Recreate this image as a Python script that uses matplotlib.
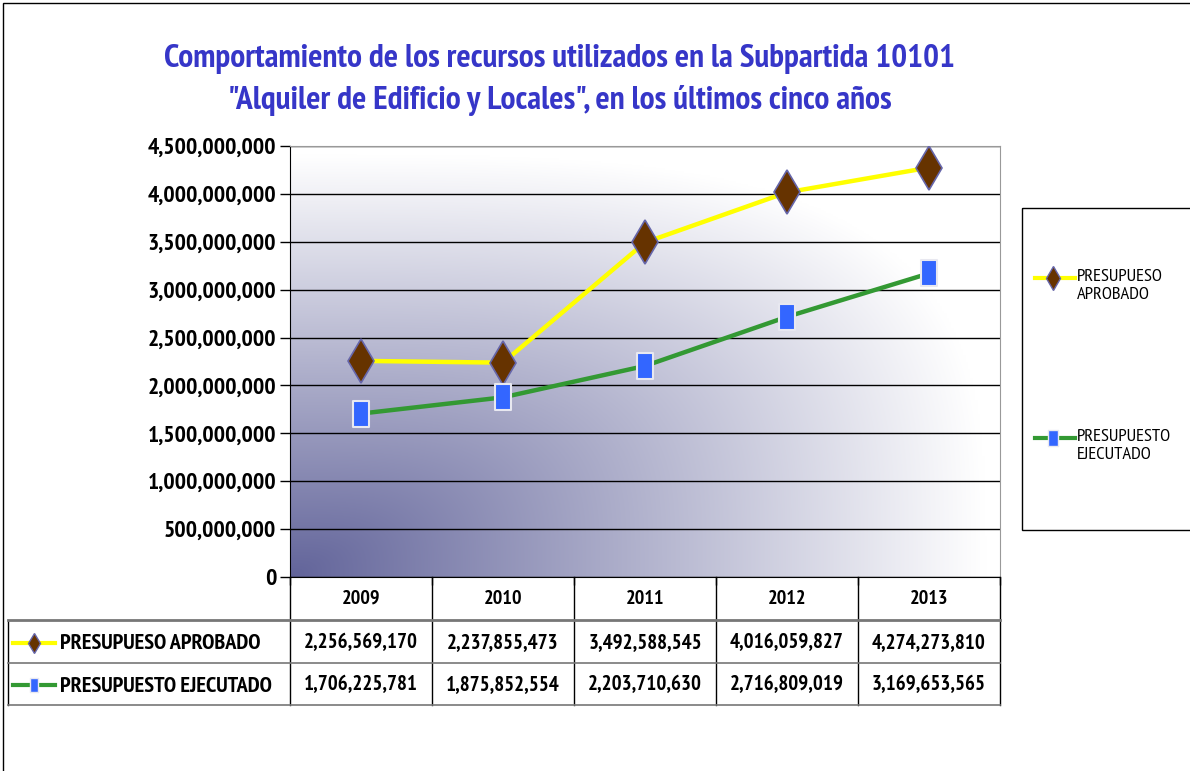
import numpy as np
import matplotlib
matplotlib.use("Agg")
import matplotlib.pyplot as plt
from matplotlib import font_manager as fm
from matplotlib.path import Path
from matplotlib.patches import Rectangle
from matplotlib.ticker import FuncFormatter

years = ["2009", "2010", "2011", "2012", "2013"]
aprobado = [2256569170, 2237855473, 3492588545, 4016059827, 4274273810]
ejecutado = [1706225781, 1875852554, 2203710630, 2716809019, 3169653565]
series_names = ["PRESUPUESO APROBADO", "PRESUPUESTO EJECUTADO"]
legend_names = ["PRESUPUESO\nAPROBADO", "PRESUPUESTO\nEJECUTADO"]
title = 'Comportamiento de los recursos utilizados en la Subpartida 10101\n"Alquiler de Edificio y Locales", en los últimos cinco años'

names = {f.name for f in fm.fontManager.ttflist}
narrow = "Liberation Sans"
for cand in ["Liberation Sans Narrow", "Arial Narrow", "PT Sans Narrow", "Archivo Narrow",
             "Roboto Condensed", "Liberation Sans"]:
    if cand in names:
        narrow = cand
        break
FAM = [narrow, "DejaVu Sans"]
plt.rcParams["font.family"] = FAM

W, H = 1190, 771
fig = plt.figure(figsize=(W / 100, H / 100), dpi=100)

def fx(px):
    return px / W

def fy(py):
    return 1 - py / H

fig.patches.append(Rectangle((fx(3), fy(1200)), fx(1400), fy(3) - fy(1200),
                             transform=fig.transFigure, fill=False, ec="black", lw=1.0))

L, R, T, B = 290, 1000, 146, 577
ax = fig.add_axes([fx(L), fy(B), fx(R - L), fy(T) - fy(B)])

# gradient background (dark at bottom-left corner, fading to white)
n = 300
xx, yy = np.meshgrid(np.linspace(0, 1, n), np.linspace(0, 1, n))
p = 3.5
d = (xx ** p + yy ** p) ** (1 / p)
t = np.clip(d / 0.98, 0, 1)
dark = np.array([0x62, 0x64, 0x9A]) / 255.0
white = np.array([1.0, 1.0, 1.0])
img = dark[None, None, :] * (1 - t[..., None]) + white[None, None, :] * t[..., None]
ax.imshow(img, extent=[0, 1, 0, 1], transform=ax.transAxes, origin="lower",
          aspect="auto", zorder=0, interpolation="bilinear")

x = np.arange(len(years))
ax.set_xlim(-0.5, len(years) - 0.5)
ax.set_ylim(0, 4.5e9)
ax.set_yticks(np.arange(0, 4.5e9 + 1, 5e8))
ax.yaxis.set_major_formatter(FuncFormatter(lambda v, p: f"{int(v):,}"))
ax.grid(axis="y", color="black", lw=1.0, zorder=1)
ax.set_xticks(np.arange(-0.5, len(years), 1.0))
ax.set_xticklabels([])
ax.tick_params(axis="x", length=6, width=1, direction="out")
ax.tick_params(axis="y", length=7, width=1, direction="out", pad=3)
for lab in ax.get_yticklabels():
    lab.set_fontsize(17)
    lab.set_fontweight("bold")
for s in ["top", "right"]:
    ax.spines[s].set_color("#999999")

rect_marker = Path([(-0.3, -0.5), (0.3, -0.5), (0.3, 0.5), (-0.3, 0.5), (-0.3, -0.5)],
                   [Path.MOVETO, Path.LINETO, Path.LINETO, Path.LINETO, Path.CLOSEPOLY])

ax.plot(x, aprobado, color="#FFFF00", lw=3.2, marker="d", ms=22, mfc="#663300",
        mec="#6666AA", mew=1.2, zorder=4)
ax.plot(x, ejecutado, color="#339933", lw=3.2, marker=rect_marker, ms=19, mfc="#3366FF",
        mec="#E8E8F0", mew=1.5, zorder=4)

fig.text(fx(560), fy(80), title, ha="center", va="center", color="#3636C8",
         fontsize=24, fontweight="bold", linespacing=1.5)

# Table
tax = fig.add_axes([0, 0, 1, 1])
tax.set_xlim(0, W)
tax.set_ylim(H, 0)
tax.axis("off")
tax.patch.set_alpha(0)
cols = [L + i * (R - L) / len(years) for i in range(len(years) + 1)]
rows = [B, 620, 663, 705]
for c in cols:
    tax.plot([c, c], [rows[0], rows[3]], color="black", lw=1)
tax.plot([8, 8], [rows[1], rows[3]], color="black", lw=1)
tax.plot([8, R], [rows[1], rows[1]], color="#777777", lw=2.0)
tax.plot([8, R], [rows[2], rows[2]], color="#777777", lw=1.2)
tax.plot([8, R], [rows[3], rows[3]], color="#777777", lw=1.2)
for i, yv in enumerate(years):
    tax.text((cols[i] + cols[i + 1]) / 2, (rows[0] + rows[1]) / 2, yv, ha="center",
             va="center", fontsize=14.5, fontweight="bold")
for r, (vals, nm) in enumerate(zip([aprobado, ejecutado], series_names)):
    yc = (rows[r + 1] + rows[r + 2]) / 2 + 1
    for i, v in enumerate(vals):
        tax.text((cols[i] + cols[i + 1]) / 2, yc, f"{v:,}", ha="center", va="center",
                 fontsize=15, fontweight="bold")
    tax.text(60, yc + 1, nm, ha="left", va="center", fontsize=16, fontweight="bold")
ya, ye = (rows[1] + rows[2]) / 2 + 1, (rows[2] + rows[3]) / 2 + 1
tax.plot([13, 55], [ya, ya], color="#FFFF00", lw=3)
tax.plot([34], [ya], marker="d", ms=10, mfc="#663300", mec="#6666AA", mew=1)
tax.plot([13, 55], [ye, ye], color="#339933", lw=3)
tax.plot([34], [ye], marker=rect_marker, ms=10, mfc="#3366FF", mec="#E8E8F0", mew=1)

# Legend box
tax.add_patch(Rectangle((1022, 208), 300, 322, fill=False, ec="black", lw=1))
ly = [278, 438]
tax.plot([1035, 1075], [ly[0]] * 2, color="#FFFF00", lw=3)
tax.plot([1053], [ly[0]], marker="d", ms=12, mfc="#663300", mec="#6666AA", mew=1)
tax.plot([1035, 1075], [ly[1]] * 2, color="#339933", lw=3)
tax.plot([1053], [ly[1]], marker=rect_marker, ms=11, mfc="#3366FF", mec="#E8E8F0", mew=1)
for yv, nm in zip(ly, legend_names):
    tax.text(1077, yv - 9, nm, ha="left", va="top", fontsize=13.3, linespacing=1.2)

fig.savefig("out.png", dpi=100)
